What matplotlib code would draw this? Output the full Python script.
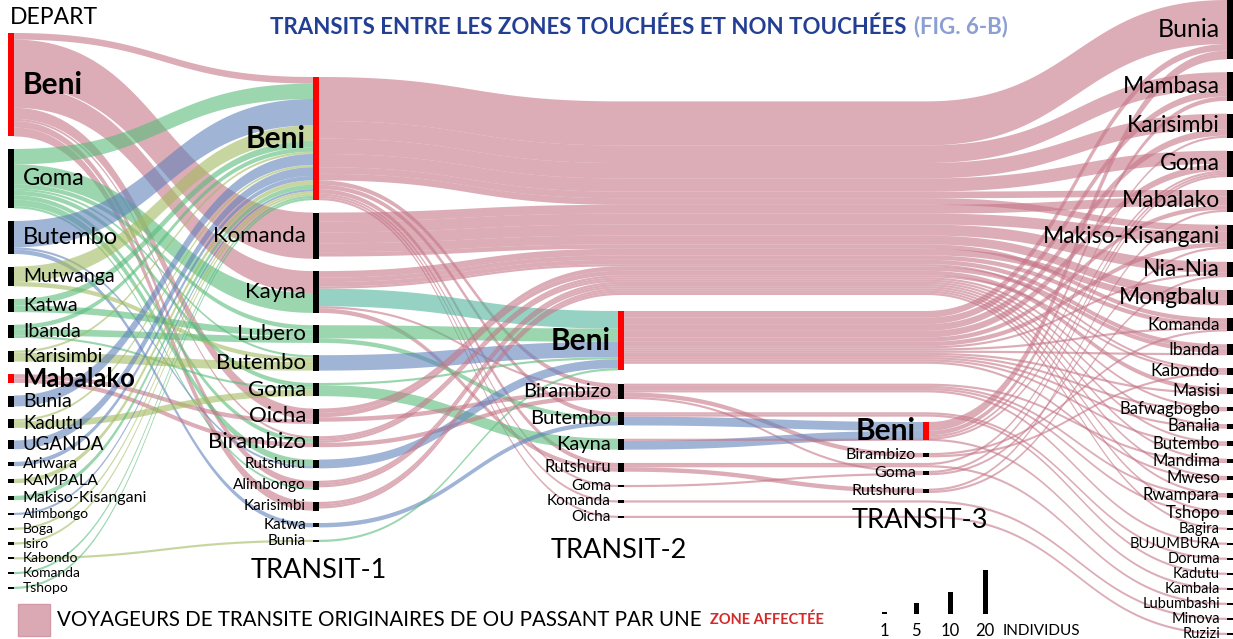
import numpy as np
import matplotlib
matplotlib.use("Agg")
import matplotlib.pyplot as plt
from matplotlib.patches import Polygon, Rectangle

# ---------------- data ----------------
depart = ["Beni", "Goma", "Butembo", "Mutwanga", "Katwa", "Ibanda", "Karisimbi", "Mabalako",
          "Bunia", "Kadutu", "UGANDA", "Ariwara", "KAMPALA", "Makiso-Kisangani", "Alimbongo",
          "Boga", "Isiro", "Kabondo", "Komanda", "Tshopo"]
transit1 = ["Beni", "Komanda", "Kayna", "Lubero", "Butembo", "Goma", "Oicha", "Birambizo",
            "Rutshuru", "Alimbongo", "Karisimbi", "Katwa", "Bunia"]
transit2 = ["Beni", "Birambizo", "Butembo", "Kayna", "Rutshuru", "Goma", "Komanda", "Oicha"]
transit3 = ["Beni", "Birambizo", "Goma", "Rutshuru"]
arrivee = ["Bunia", "Mambasa", "Karisimbi", "Goma", "Mabalako", "Makiso-Kisangani", "Nia-Nia",
           "Mongbalu", "Komanda", "Ibanda", "Kabondo", "Masisi", "Bafwagbogbo", "Banalia",
           "Butembo", "Mandima", "Mweso", "Rwampara", "Tshopo", "Bagira", "BUJUMBURA", "Doruma",
           "Kadutu", "Kambala", "Lubumbashi", "Minova", "Ruzizi"]
zones_affectees = ["Beni", "Mabalako"]
column_titles = ["DEPART", "TRANSIT-1", "TRANSIT-2", "TRANSIT-3"]

# (source, target, individuals, colour group)
links_dep_t1 = [
    ("Beni", "Beni", 3, "p"), ("Beni", "Komanda", 21, "p"), ("Beni", "Kayna", 10, "p"),
    ("Beni", "Oicha", 5, "p"), ("Beni", "Birambizo", 1, "p"), ("Beni", "Alimbongo", 3, "p"),
    ("Beni", "Karisimbi", 4, "p"),
    ("Goma", "Beni", 7, "g"), ("Goma", "Kayna", 9, "g"), ("Goma", "Lubero", 2, "g"),
    ("Goma", "Butembo", 1, "g"), ("Goma", "Goma", 2, "g"), ("Goma", "Birambizo", 2, "g"),
    ("Goma", "Rutshuru", 3, "g"), ("Goma", "Alimbongo", 1, "g"),
    ("Butembo", "Beni", 12, "b"), ("Butembo", "Rutshuru", 1, "b"), ("Butembo", "Katwa", 2, "b"),
    ("Mutwanga", "Beni", 7, "y"), ("Mutwanga", "Butembo", 2, "y"),
    ("Katwa", "Beni", 3, "g"), ("Katwa", "Lubero", 3, "g"),
    ("Ibanda", "Beni", 2, "g"), ("Ibanda", "Lubero", 3, "g"), ("Ibanda", "Goma", 1, "g"),
    ("Karisimbi", "Beni", 1, "y"), ("Karisimbi", "Butembo", 4, "y"),
    ("Mabalako", "Oicha", 2, "p"), ("Mabalako", "Birambizo", 2, "p"),
    ("Bunia", "Beni", 5, "b"), ("Kadutu", "Beni", 1, "y"), ("Kadutu", "Goma", 3, "y"),
    ("UGANDA", "Beni", 4, "b"), ("Ariwara", "Beni", 2, "b"), ("KAMPALA", "Beni", 2, "y"),
    ("Makiso-Kisangani", "Beni", 2, "g"), ("Alimbongo", "Beni", 1, "b"), ("Boga", "Beni", 1, "y"),
    ("Isiro", "Beni", 1, "y"), ("Kabondo", "Bunia", 1, "y"), ("Komanda", "Beni", 1, "g"),
    ("Tshopo", "Beni", 1, "g"),
]
links_t1_t2 = [
    ("Beni", "Birambizo", 2, "p"), ("Beni", "Butembo", 2, "p"), ("Beni", "Rutshuru", 2, "p"),
    ("Beni", "Goma", 1, "p"), ("Beni", "Komanda", 1, "p"), ("Beni", "Oicha", 1, "p"),
    ("Kayna", "Beni", 8, "t"), ("Kayna", "Birambizo", 1, "p"), ("Kayna", "Rutshuru", 2, "p"),
    ("Lubero", "Beni", 6, "g"), ("Lubero", "Butembo", 2, "g"),
    ("Butembo", "Beni", 7, "b"),
    ("Goma", "Beni", 1, "g"), ("Goma", "Kayna", 5, "g"),
    ("Oicha", "Birambizo", 2, "p"), ("Birambizo", "Birambizo", 2, "p"),
    ("Rutshuru", "Beni", 4, "b"), ("Katwa", "Butembo", 2, "b"), ("Bunia", "Beni", 1, "g"),
]
links_t1_arr = [
    ("Beni", "Bunia", 20, "p"), ("Beni", "Mambasa", 8, "p"), ("Beni", "Karisimbi", 7, "p"),
    ("Beni", "Goma", 6, "p"), ("Beni", "Mabalako", 3, "p"), ("Beni", "Makiso-Kisangani", 3, "p"),
    ("Komanda", "Mabalako", 4, "p"), ("Komanda", "Makiso-Kisangani", 5, "p"),
    ("Komanda", "Nia-Nia", 5, "p"), ("Komanda", "Mongbalu", 4, "p"), ("Komanda", "Komanda", 2, "p"),
    ("Kayna", "Mongbalu", 3, "p"), ("Kayna", "Komanda", 2, "p"), ("Kayna", "Ibanda", 2, "p"),
    ("Kayna", "Kabondo", 1, "p"),
    ("Oicha", "Ibanda", 2, "p"), ("Oicha", "Masisi", 2, "p"),
    ("Birambizo", "Kabondo", 1, "p"), ("Birambizo", "Bafwagbogbo", 1, "p"),
    ("Birambizo", "Banalia", 1, "p"),
    ("Alimbongo", "Butembo", 1, "p"), ("Alimbongo", "Mandima", 1, "p"), ("Alimbongo", "Mweso", 1, "p"),
    ("Karisimbi", "Rwampara", 1, "p"), ("Karisimbi", "Tshopo", 1, "p"), ("Karisimbi", "Bagira", 1, "p"),
]
links_t2_t3 = [
    ("Birambizo", "Birambizo", 2, "p"), ("Birambizo", "Goma", 1, "p"),
    ("Butembo", "Beni", 4, "b"), ("Kayna", "Beni", 4, "b"),
    ("Rutshuru", "Rutshuru", 2, "p"), ("Goma", "Goma", 1, "p"),
]
links_t2_arr = [
    ("Beni", "Bunia", 3, "p"), ("Beni", "Mambasa", 3, "p"), ("Beni", "Karisimbi", 3, "p"),
    ("Beni", "Goma", 3, "p"), ("Beni", "Mabalako", 2, "p"), ("Beni", "Makiso-Kisangani", 2, "p"),
    ("Beni", "Nia-Nia", 1, "p"), ("Beni", "Komanda", 1, "p"),
    ("Beni", "Ibanda", 1, "p"), ("Beni", "Masisi", 1, "p"), ("Beni", "Bafwagbogbo", 1, "p"),
    ("Beni", "Banalia", 1, "p"), ("Beni", "Butembo", 1, "p"), ("Beni", "Mweso", 1, "p"),
    ("Birambizo", "Mandima", 1, "p"), ("Birambizo", "Rwampara", 1, "p"),
    ("Birambizo", "Tshopo", 1, "p"), ("Birambizo", "BUJUMBURA", 1, "p"),
    ("Butembo", "Doruma", 1, "p"), ("Butembo", "Kadutu", 1, "p"),
    ("Kayna", "Kambala", 1, "p"),
    ("Rutshuru", "Goma", 1, "p"), ("Rutshuru", "Lubumbashi", 1, "p"),
    ("Komanda", "Minova", 1, "p"), ("Oicha", "Ruzizi", 1, "p"),
]
links_t3_arr = [
    ("Beni", "Bunia", 4, "p"), ("Beni", "Mambasa", 2, "p"), ("Beni", "Karisimbi", 1, "p"),
    ("Beni", "Goma", 1, "p"),
    ("Birambizo", "Komanda", 1, "p"), ("Birambizo", "Kabondo", 1, "p"),
    ("Goma", "Goma", 1, "p"), ("Goma", "Makiso-Kisangani", 1, "p"),
    ("Rutshuru", "Mabalako", 1, "p"), ("Rutshuru", "Nia-Nia", 1, "p"),
]
legend_sizes = [1, 5, 10, 20]

# ---------------- style / layout ----------------
W, H = 1233, 639
K = 2.2                          # pixels per individual
tops = [33, 77, 311, 422, 0]
bots = [589, 542, 518, 493, 635]
xb = [8, 313, 618, 923, 1227]
BW = 6
ALPHA = 0.6
COLORS = {"p": "#c57687", "g": "#58bc7a", "b": "#6182bc", "y": "#a3bc61", "t": "#50b49b"}
FONT = "Lato"

columns = [depart, transit1, transit2, transit3, arrivee]
stages = [(0, 1, links_dep_t1), (1, 2, links_t1_t2), (1, 4, links_t1_arr),
          (2, 3, links_t2_t3), (2, 4, links_t2_arr), (3, 4, links_t3_arr)]

links = []
for c0, c1, lst in stages:
    for s, t, v, g in lst:
        links.append(dict(c0=c0, c1=c1, s=s, t=t, v=v, g=g))

inflow, outflow = {}, {}
for L in links:
    outflow[(L["c0"], L["s"])] = outflow.get((L["c0"], L["s"]), 0) + L["v"]
    inflow[(L["c1"], L["t"])] = inflow.get((L["c1"], L["t"]), 0) + L["v"]
val = {}
for c, names in enumerate(columns):
    for n in names:
        val[(c, n)] = max(inflow.get((c, n), 0), outflow.get((c, n), 0), 1)

ny = {}
for c, names in enumerate(columns):
    tot = sum(val[(c, n)] for n in names) * K
    gap = (bots[c] - tops[c] - tot) / (len(names) - 1)
    y = tops[c]
    for n in names:
        ny[(c, n)] = y
        y += val[(c, n)] * K + gap


def center(c, n):
    return ny[(c, n)] + val[(c, n)] * K / 2


for c, names in enumerate(columns):
    for n in names:
        outs = [L for L in links if L["c0"] == c and L["s"] == n]
        outs.sort(key=lambda L: (0 if L["c1"] - L["c0"] > 1 else 1, center(L["c1"], L["t"])))
        y = ny[(c, n)]
        for L in outs:
            L["ys"] = y
            y += L["v"] * K

longs1 = sorted([L for L in links if L["c0"] == 1 and L["c1"] == 4], key=lambda L: L["ys"])
y = tops[2] - 16 - sum(L["v"] for L in longs1) * K
for L in longs1:
    L["yd"] = y
    y += L["v"] * K
for L in links:
    L["pre"] = L["yd"] if (L["c0"] == 1 and L["c1"] == 4) else L["ys"]

for c, names in enumerate(columns):
    for n in names:
        ins = [L for L in links if L["c1"] == c and L["t"] == n]
        ins.sort(key=lambda L: L["pre"])
        y = ny[(c, n)]
        for L in ins:
            L["yt"] = y
            y += L["v"] * K


def bez(x0, x1, y0, y1, n=60):
    t = np.linspace(0, 1, n)
    xm = (x0 + x1) / 2
    x = (1 - t) ** 3 * x0 + 3 * (1 - t) ** 2 * t * xm + 3 * (1 - t) * t ** 2 * xm + t ** 3 * x1
    yy = (1 - t) ** 3 * y0 + 3 * (1 - t) ** 2 * t * y0 + 3 * (1 - t) * t ** 2 * y1 + t ** 3 * y1
    return x, yy


fig = plt.figure(figsize=(W / 100, H / 100), dpi=100)
ax = fig.add_axes([0, 0, 1, 1])
ax.set_xlim(0, W)
ax.set_ylim(H, 0)
ax.axis("off")

for L in links:
    c0, c1 = L["c0"], L["c1"]
    h = L["v"] * K
    if c1 - c0 == 1:
        xs, ys = bez(xb[c0] + BW, xb[c1], L["ys"], L["yt"])
    elif c0 == 1:
        xa, ya = bez(xb[1] + BW, xb[2] + BW / 2, L["ys"], L["yd"])
        xc, yc = bez(xb[3] + BW / 2, xb[4], L["yd"], L["yt"])
        xs, ys = np.concatenate([xa, xc]), np.concatenate([ya, yc])
    else:
        xc, yc = bez(xb[3] + BW / 2, xb[4], L["ys"], L["yt"])
        xs = np.concatenate([[xb[2] + BW], xc])
        ys = np.concatenate([[L["ys"]], yc])
    pts = np.vstack([np.column_stack([xs, ys]), np.column_stack([xs[::-1], ys[::-1] + h])])
    ax.add_patch(Polygon(pts, closed=True, facecolor=COLORS[L["g"]], alpha=ALPHA,
                         edgecolor="none", lw=0, zorder=2))


def label_size(c, v, bold):
    if bold:
        return 21.5 if v >= 7 else 18.5
    if c == 0:
        return 17 if v >= 14 else 14 if v >= 5 else 13.5 if v >= 4 else 11.5 if v >= 2 else 10
    if c == 1:
        return 16 if v >= 5 else 11
    if c == 2:
        return 14.5 if v >= 5 else 12 if v >= 4 else 11
    if c == 3:
        return 11.5
    return 18 if v >= 20 else 16.5 if v >= 7 else 12.5 if v >= 3 else 12 if v >= 2 else 10.5


for c, names in enumerate(columns):
    for n in names:
        v = val[(c, n)]
        affected = (n in zones_affectees) and c < 4
        ax.add_patch(Rectangle((xb[c], ny[(c, n)]), BW, v * K,
                               facecolor="#ff0000" if affected else "black", edgecolor="none", zorder=4))
        fs = label_size(c, v, affected)
        if c == 0:
            ax.text(xb[c] + BW + 9, center(c, n), n, fontsize=fs, fontfamily=FONT,
                    fontweight="bold" if affected else "normal", ha="left", va="center", zorder=5)
        else:
            ax.text(xb[c] - 7, center(c, n), n, fontsize=fs, fontfamily=FONT,
                    fontweight="bold" if affected else "normal", ha="right", va="center", zorder=5)

ax.text(10, 18, column_titles[0], fontsize=16.5, fontfamily=FONT, ha="left", va="center")
ax.text(319, 571, column_titles[1], fontsize=19.5, fontfamily=FONT, ha="center", va="center")
ax.text(619, 550, column_titles[2], fontsize=19.5, fontfamily=FONT, ha="center", va="center")
ax.text(920, 521, column_titles[3], fontsize=19.5, fontfamily=FONT, ha="center", va="center")

renderer = fig.canvas.get_renderer()

t1 = ax.text(270, 27, "TRANSITS ENTRE LES ZONES TOUCHÉES ET NON TOUCHÉES", fontsize=16,
             fontfamily=FONT, fontweight="bold", color="#233f94", ha="left", va="center")
bb = t1.get_window_extent(renderer)
ax.text(bb.x1 + 7, 27, "(FIG. 6-B)", fontsize=16, fontfamily=FONT, fontweight="bold",
        color="#8c9fd2", ha="left", va="center")

ax.add_patch(Rectangle((18, 604), 32, 32, facecolor="#dba9b4", edgecolor="#d29aa6", lw=1, zorder=3))
t2 = ax.text(57, 620, "VOYAGEURS DE TRANSITE ORIGINAIRES DE OU PASSANT PAR UNE", fontsize=14.8,
             fontfamily=FONT, ha="left", va="center")
bb = t2.get_window_extent(renderer)
ax.text(bb.x1 + 8, 620, "ZONE AFFECTÉE", fontsize=10.5, fontfamily=FONT, fontweight="bold",
        color="#d42a2a", ha="left", va="center")

lx = [884, 916, 950, 985]
for x, s in zip(lx, legend_sizes):
    ax.add_patch(Rectangle((x - 2.5, 614 - s * K), 5, s * K, facecolor="black", edgecolor="none"))
    ax.text(x, 631, str(s), fontsize=12, fontfamily=FONT, ha="center", va="center")
ax.text(1003, 631, "INDIVIDUS", fontsize=11, fontfamily=FONT, ha="left", va="center")

fig.savefig("out.png", dpi=100)
